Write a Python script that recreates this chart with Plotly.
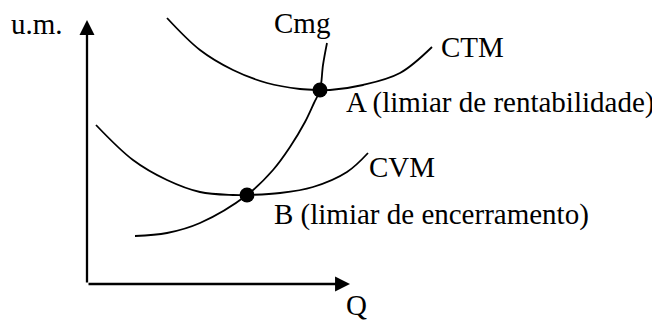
import plotly.graph_objects as go

# curves (Q, u.m.)
ctm_q = [8.0, 11.3, 14.6, 18.0, 21.3, 23.3, 24.3, 27.6, 31.3, 34.5]
ctm_u = [26.6, 23.4, 21.4, 20.1, 19.5, 19.4, 19.4, 19.9, 21.1, 23.7]

cmg_q = [4.8, 8.0, 11.3, 16.0, 18.6, 20.3, 21.8, 22.7, 23.3, 23.6, 24.0]
cmg_u = [4.8, 5.1, 6.1, 8.9, 11.4, 13.7, 16.2, 18.1, 19.4, 21.9, 24.1]

cvm_q = [0.9, 4.6, 8.0, 11.3, 14.6, 16.0, 19.3, 22.6, 26.0, 28.1]
cvm_u = [15.9, 12.4, 10.4, 9.2, 8.9, 8.9, 9.1, 9.7, 11.2, 13.1]

# limiar points A and B
pt_names = ["A", "B"]
pt_q = [23.3, 16.0]
pt_u = [19.4, 8.9]

axis_top = 26.4
axis_right = 26.3

FONT = "Liberation Serif, Times New Roman, serif"

fig = go.Figure()
for q, u in [(ctm_q, ctm_u), (cmg_q, cmg_u), (cvm_q, cvm_u)]:
    fig.add_trace(go.Scatter(x=q, y=u, mode="lines", line=dict(color="black", width=1.8, shape="spline"),
                             hoverinfo="skip", showlegend=False))
fig.add_trace(go.Scatter(x=pt_q, y=pt_u, mode="markers", text=pt_names,
                         marker=dict(color="black", size=15), showlegend=False))

# axes with arrows
for tx, ty in [(0, axis_top), (axis_right, 0)]:
    fig.add_annotation(x=tx, y=ty, ax=0, ay=0, axref="x", ayref="y", text="",
                       showarrow=True, arrowhead=2, arrowsize=1.3, arrowwidth=2.3, arrowcolor="black")

labels = [
    ("u.m.", -7.85, 26.0),
    ("Cmg", 18.5, 26.1),
    ("CTM", 35.2, 23.7),
    ("A (limiar de rentabilidade)", 25.7, 18.2),
    ("CVM", 28.0, 11.7),
    ("B (limiar de encerramento)", 18.5, 7.0),
    ("Q", 25.7, -2.1),
]
for txt, x, y in labels:
    fig.add_annotation(x=x, y=y, text=txt, showarrow=False, xanchor="left", yanchor="middle",
                       font=dict(family=FONT, size=29, color="black"))

# ranges offset by the page's 8px body margin
fig.update_layout(
    width=660, height=320,
    margin=dict(l=0, r=0, t=0, b=0),
    paper_bgcolor="white", plot_bgcolor="white",
    xaxis=dict(range=[-7.9, 58.1], visible=False),
    yaxis=dict(range=[-4.4, 27.6], visible=False),
)
fig.write_html("out.html")
